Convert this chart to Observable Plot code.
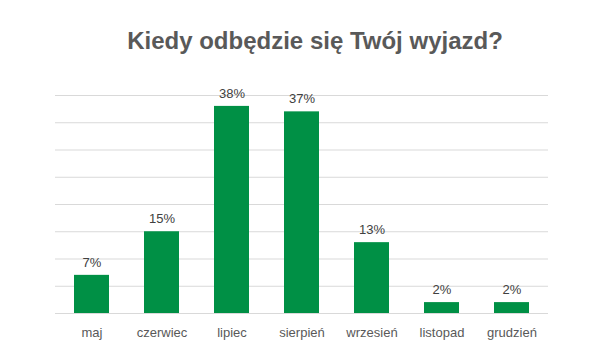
<!DOCTYPE html>
<html>
<head>
<meta charset="utf-8">
<script src="https://cdn.jsdelivr.net/npm/d3@7"></script>
<script src="https://cdn.jsdelivr.net/npm/@observablehq/plot@0.6"></script>
<style>
  body { margin: 0; background: #fff; font-family: "Liberation Sans", Arial, sans-serif; }
</style>
</head>
<body>
<div id="chart"></div>
<script>
const title = "Kiedy odbędzie się Twój wyjazd?";
const months = ["maj", "czerwiec", "lipiec", "sierpień", "wrzesień", "listopad", "grudzień"];
const values = [7, 15, 38, 37, 13, 2, 2];
const gridTicks = [0, 5, 10, 15, 20, 25, 30, 35, 40];

const data = months.map((m, i) => ({month: m, value: values[i]}));

const chart = Plot.plot({
  width: 592,
  height: 362,
  marginLeft: 55,
  marginRight: 44,
  marginTop: 95,
  marginBottom: 49,
  style: {fontFamily: "Liberation Sans, Arial, sans-serif", background: "#fff"},
  x: {domain: months, paddingInner: 0.5, paddingOuter: 0.25, label: null},
  y: {domain: [0, 40], label: null, axis: null},
  marks: [
    Plot.ruleY(gridTicks, {stroke: "#d9d9d9", strokeWidth: 1}),
    Plot.barY(data, {x: "month", y: "value", fill: "#009045"}),
    Plot.text(data, {x: "month", y: "value", text: d => d.value + "%", dy: -13, fill: "#404040", fontSize: 13, lineAnchor: "middle"}),
    Plot.axisX({tickSize: 0, tickPadding: 14, fontSize: 13, color: "#595959", label: null}),
    Plot.text([title], {frameAnchor: "top", dx: 13, dy: -54, fontSize: 24, fontWeight: "bold", fill: "#595959", lineAnchor: "middle"})
  ]
});
document.getElementById("chart").appendChild(chart);
</script>
</body>
</html>
